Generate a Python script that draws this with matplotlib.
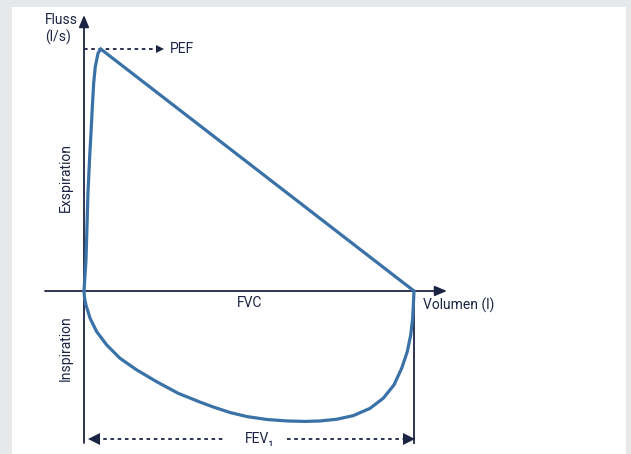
import matplotlib.pyplot as plt
from matplotlib.patches import Rectangle

# Flow-volume loop (volume in l, flow in l/s)
exp_volume = [0.0, 0.03, 0.045, 0.06, 0.086, 0.106, 0.126, 0.147, 0.171, 0.212, 0.253, 5.0]
exp_flow = [0.0, 1.28, 2.64, 4.05, 5.54, 6.53, 7.60, 8.60, 9.27, 9.82, 10.0, 0.0]

insp_volume = [0.0, 0.008, 0.03, 0.091, 0.192, 0.344, 0.545, 0.798, 1.102, 1.429, 1.758,
               1.955, 2.212, 2.47, 2.773, 3.076, 3.348, 3.576, 3.829, 4.08, 4.333, 4.535,
               4.697, 4.814, 4.898, 4.95, 4.98, 4.99, 5.0]
insp_flow = [0.0, -0.29, -0.58, -1.12, -1.68, -2.23, -2.78, -3.26, -3.75, -4.23, -4.59,
             -4.79, -5.02, -5.19, -5.31, -5.37, -5.39, -5.37, -5.30, -5.15, -4.85, -4.43,
             -3.88, -3.19, -2.51, -1.82, -1.12, -0.58, 0.0]

fvc = 5.0
pef = 10.0

line_col = '#3a72a8'
axis_col = '#1c2443'
bg_col = '#e7e8ea'
font = ['Roboto', 'DejaVu Sans']

# pixel scale of the reference
px_x = 66.0
px_y = 24.2
x0_px, y0_px = 84, 291
W, H = 631, 454


def vx(px):
    return (px - x0_px) / px_x


def vy(py):
    return (y0_px - py) / px_y


fig = plt.figure(figsize=(W / 100, H / 100), dpi=100)
fig.patch.set_facecolor(bg_col)
fig.patches.append(Rectangle((12 / W, 0), (626 - 12) / W, (H - 7) / H,
                             transform=fig.transFigure, facecolor='white',
                             edgecolor='none', zorder=-1))

ax = fig.add_axes([0, 0, 1, 1])
ax.set_zorder(2)
ax.set_xlim(vx(0), vx(W))
ax.set_ylim(vy(H), vy(0))
ax.axis('off')
ax.patch.set_alpha(0)

arrow = dict(arrowstyle='-|>,head_length=0.6,head_width=0.25', color=axis_col,
             lw=1.3, shrinkA=0, shrinkB=0, mutation_scale=12)

# axes with arrows
ax.annotate('', xy=(vx(447), 0), xytext=(vx(45), 0), arrowprops=arrow)
ax.annotate('', xy=(0, vy(15)), xytext=(0, vy(443)), arrowprops=arrow)
ax.plot([fvc, fvc], [0, vy(443)], color=axis_col, lw=1.3)

# PEF marker line
ax.plot([0, vx(158)], [pef, pef], color=axis_col, lw=1.3, linestyle=(0, (2, 2)))
ax.plot(vx(160), pef, marker='>', color=axis_col, markersize=6, markeredgewidth=0)

# FEV1 span
fev_y = vy(439)
ax.plot([vx(96), vx(225)], [fev_y, fev_y], color=axis_col, lw=1.3, linestyle=(0, (2, 2)))
ax.plot([vx(287), vx(406)], [fev_y, fev_y], color=axis_col, lw=1.3, linestyle=(0, (2, 2)))
ax.plot(vx(94), fev_y, marker='<', color=axis_col, markersize=8, markeredgewidth=0)
ax.plot(vx(409), fev_y, marker='>', color=axis_col, markersize=8, markeredgewidth=0)

# the loop
ax.plot(exp_volume, exp_flow, color=line_col, lw=2.3, solid_joinstyle='miter',
        solid_capstyle='round', zorder=5)
ax.plot(insp_volume, insp_flow, color=line_col, lw=2.3, solid_joinstyle='round',
        solid_capstyle='round', zorder=5)

fs = 10
ax.text(vx(45), vy(20), 'Fluss', fontsize=fs, family=font, color=axis_col, va='center')
ax.text(vx(45), vy(37), '(l/s)', fontsize=fs, family=font, color=axis_col, va='center')
ax.text(vx(170), pef, 'PEF', fontsize=fs, family=font, color=axis_col, va='center')
ax.text(vx(250), vy(303), 'FVC', fontsize=fs, family=font, color=axis_col,
        va='center', ha='center')
ax.text(vx(423), vy(305), 'Volumen (l)', fontsize=fs, family=font, color=axis_col,
        va='center')
ax.text(vx(260), fev_y, 'FEV\u2081', fontsize=fs, family=font, color=axis_col,
        va='center', ha='center')
ax.text(vx(65.5), vy(177), 'Exspiration', fontsize=fs, family=font, color=axis_col,
        va='center', ha='center', rotation=90)
ax.text(vx(65.5), vy(348), 'Inspiration', fontsize=fs, family=font, color=axis_col,
        va='center', ha='center', rotation=90)

fig.savefig('out.png', dpi=100, facecolor=fig.get_facecolor())
